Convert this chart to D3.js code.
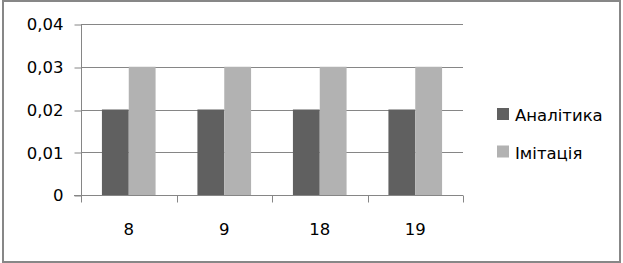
<!DOCTYPE html>
<html><head><meta charset="utf-8">
<script src="https://cdn.jsdelivr.net/npm/d3@7"></script>
<style>html,body{margin:0;padding:0;background:#fff;}svg{display:block;}</style>
</head><body>
<script>
const categories = ["8", "9", "18", "19"];
const seriesNames = ["Аналітика", "Імітація"];
const analytics = [0.02, 0.02, 0.02, 0.02];
const imitation = [0.03, 0.03, 0.03, 0.03];
const yTicks = [0, 0.01, 0.02, 0.03, 0.04];
const yTickLabels = ["0", "0,01", "0,02", "0,03", "0,04"];
const colors = ["#606060", "#b2b2b2"];

const W = 623, H = 263;
const font = "DejaVu Sans, sans-serif";
const fs = 16.5;
const svg = d3.select("body").append("svg").attr("width", W).attr("height", H);

svg.append("rect").attr("x", 3).attr("y", 1).attr("width", 617).attr("height", 261)
  .attr("fill", "#fff").attr("stroke", "#878787").attr("stroke-width", 2);

const plot = {l: 81, r: 463, t: 24, b: 195};
const x = d3.scaleBand().domain(categories).range([plot.l, plot.r]);
const y = d3.scaleLinear().domain([0, 0.04]).range([plot.b, plot.t]);
const inner = d3.scaleBand().domain(seriesNames).range([0, x.bandwidth()]).paddingOuter(0.78).paddingInner(0);

// gridlines
svg.append("g").selectAll("line").data(yTicks.filter(d => d > 0)).join("line")
  .attr("x1", plot.l).attr("x2", plot.r)
  .attr("y1", d => Math.round(y(d)) + 0.5).attr("y2", d => Math.round(y(d)) + 0.5)
  .attr("stroke", "#868686").attr("stroke-width", 1);

// bars
const data = [analytics, imitation];
const g = svg.append("g");
seriesNames.forEach((s, si) => {
  g.selectAll(null).data(categories).join("rect")
    .attr("x", (c) => x(c) + inner(s))
    .attr("y", (c, i) => y(data[si][i]))
    .attr("width", inner.bandwidth())
    .attr("height", (c, i) => y(0) - y(data[si][i]))
    .attr("fill", colors[si]);
});

// y axis
const yAxis = d3.axisLeft(y).tickValues(yTicks).tickFormat((d, i) => yTickLabels[i]).tickSize(7).tickPadding(11);
const ya = svg.append("g").attr("transform", `translate(${plot.l + 0.5},0.5)`).call(yAxis);
ya.selectAll("line").attr("stroke", "#868686").attr("transform", (d)=>`translate(0,${Math.round(y(d)) - y(d)})`);
ya.select(".domain").attr("stroke", "#868686").attr("d", `M0,${plot.t}V${plot.b}`);
ya.selectAll("text").attr("font-family", font).attr("font-size", fs).attr("fill", "#000");

// x axis
const xa = svg.append("g").attr("transform", `translate(0,${plot.b + 0.5})`);
xa.append("line").attr("x1", plot.l - 7).attr("x2", plot.r).attr("stroke", "#868686");
const bounds = categories.map(c => x(c)).concat([plot.r]);
xa.selectAll("line.t").data(bounds).join("line").attr("class", "t")
  .attr("x1", d => Math.round(d) + 0.5).attr("x2", d => Math.round(d) + 0.5)
  .attr("y1", 0).attr("y2", 7).attr("stroke", "#868686");
xa.selectAll("text").data(categories).join("text")
  .attr("x", c => x(c) + x.bandwidth() / 2).attr("y", 39.5)
  .attr("text-anchor", "middle").attr("font-family", font).attr("font-size", fs).attr("fill", "#000")
  .text(c => c);

// legend
const leg = svg.append("g");
seriesNames.forEach((s, i) => {
  const yy = 108 + i * 37.5;
  leg.append("rect").attr("x", 497).attr("y", yy).attr("width", 12).attr("height", 12).attr("fill", colors[i]);
  leg.append("text").attr("x", 515).attr("y", yy + 13).attr("font-family", font).attr("font-size", fs)
    .attr("fill", "#000").text(s);
});
</script>
</body></html>
